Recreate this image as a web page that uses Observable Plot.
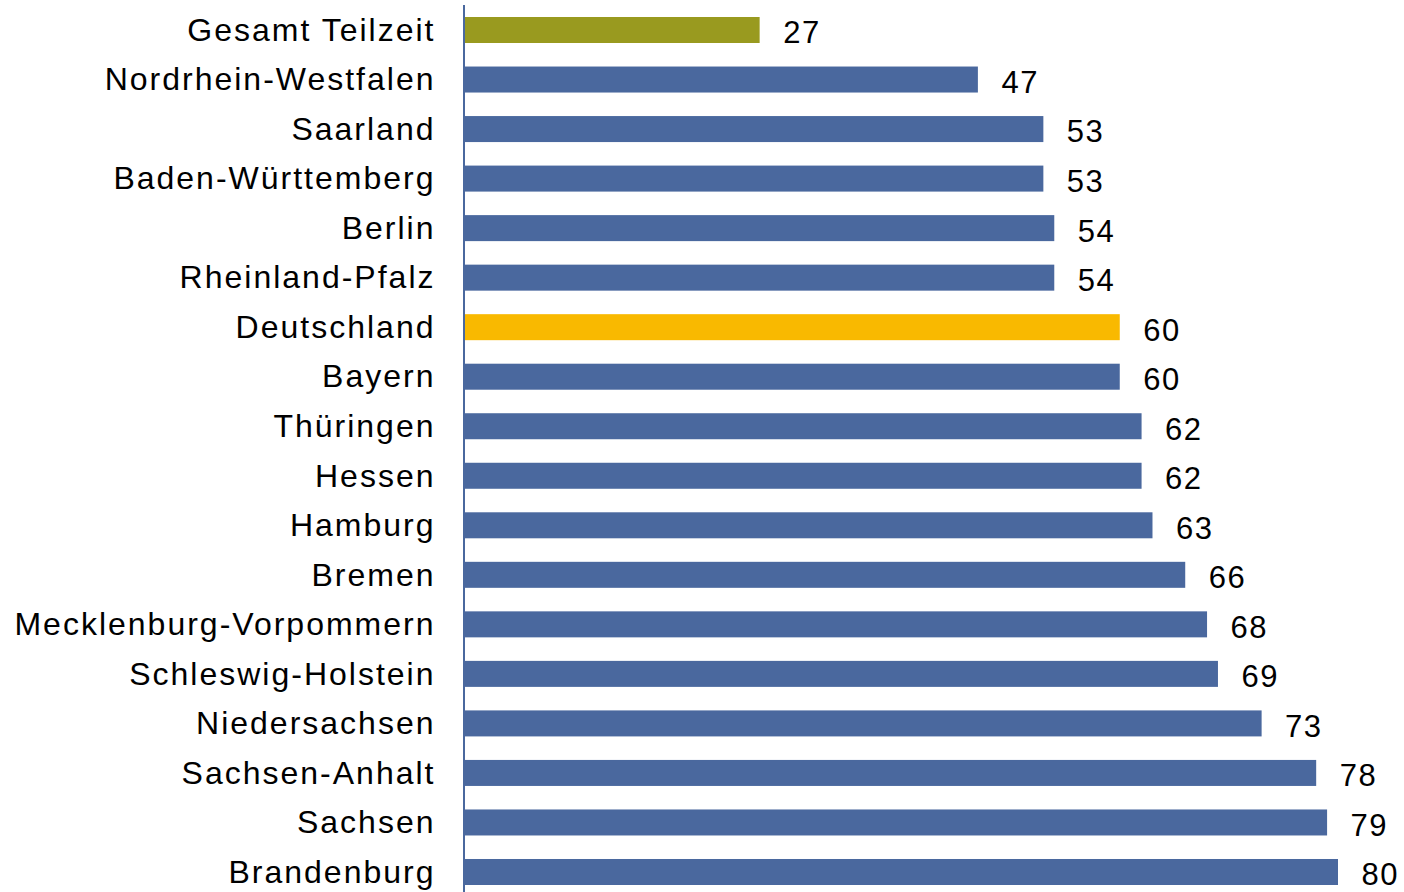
<!DOCTYPE html>
<html>
<head>
<meta charset="utf-8">
<script src="https://cdn.jsdelivr.net/npm/d3@7"></script>
<script src="https://cdn.jsdelivr.net/npm/@observablehq/plot@0.6"></script>
<style>
  html, body { margin: 0; padding: 0; background: #fff; }
  #chart svg g[aria-label="y-axis tick label"] text { letter-spacing: 2px; }
  #chart svg g[aria-label="text"] text { letter-spacing: 1.5px; }
</style>
</head>
<body>
<div id="chart"></div>
<script>
const categories = [
  "Gesamt Teilzeit", "Nordrhein-Westfalen", "Saarland", "Baden-Württemberg",
  "Berlin", "Rheinland-Pfalz", "Deutschland", "Bayern", "Thüringen", "Hessen",
  "Hamburg", "Bremen", "Mecklenburg-Vorpommern", "Schleswig-Holstein",
  "Niedersachsen", "Sachsen-Anhalt", "Sachsen", "Brandenburg"
];
const values = [27, 47, 53, 53, 54, 54, 60, 60, 62, 62, 63, 66, 68, 69, 73, 78, 79, 80];
const groups = ["total", "land", "land", "land", "land", "land", "de", "land", "land", "land",
  "land", "land", "land", "land", "land", "land", "land", "land"];
const groupNames = ["total", "de", "land"];
const groupColors = ["#999a1f", "#f9b900", "#4a689e"];

const data = categories.map((c, i) => ({category: c, value: values[i], group: groups[i]}));

const chart = Plot.plot({
  width: 1404,
  height: 892,
  marginTop: 5,
  marginBottom: 0,
  marginLeft: 465,
  marginRight: 66,
  style: {fontFamily: "'Liberation Sans', Arial, sans-serif", fontSize: "32px", color: "#000", background: "#fff"},
  x: {domain: [0, 80], range: [465, 1338], axis: null},
  y: {domain: categories, range: [17, 885], paddingInner: 0.475, paddingOuter: 0, round: false, label: null},
  color: {domain: groupNames, range: groupColors},
  marks: [
    Plot.barX(data, {x: "value", y: "category", fill: "group"}),
    Plot.ruleX([0], {stroke: "#4a689e", strokeWidth: 2, dx: -1.5}),
    Plot.text(data, {x: "value", y: "category", text: d => String(d.value), textAnchor: "start", dx: 23, dy: 3, fill: "#000", fontSize: 31}),
    Plot.axisY({tickSize: 0, tickPadding: 30, label: null, fontSize: 32, fill: "#000"})
  ]
});
document.getElementById("chart").appendChild(chart);
</script>
</body>
</html>
